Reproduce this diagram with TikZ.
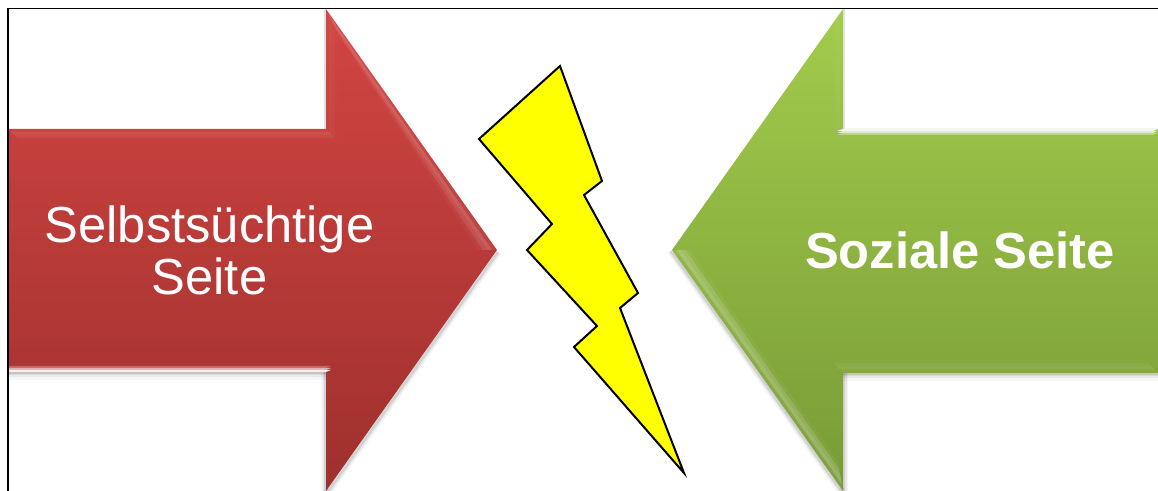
\documentclass[tikz,border=0pt]{standalone}
\usepackage{fontspec}
\setmainfont{Liberation Sans}
\usetikzlibrary{calc}
\definecolor{redtop}{HTML}{D24543}
\definecolor{redbot}{HTML}{9E302D}
\definecolor{greentop}{HTML}{A3CC4C}
\definecolor{greenbot}{HTML}{789A36}
\definecolor{boltyellow}{RGB}{255,255,0}
\newcommand{\bevelband}[5]{% edge a, edge b, inner b, inner a, strength
  \foreach \t/\u/\o in {0/0.25/0.25,0.25/0.5/1,0.5/0.75/0.7,0.75/1/0.2}{
    \fill[white,opacity=\o*#5] ($(#1)!\t!(#4)$) -- ($(#2)!\t!(#3)$) -- ($(#2)!\u!(#3)$) -- ($(#1)!\u!(#4)$) -- cycle;
  }
}
\tikzset{
  x=0.75pt,y=-0.75pt,
  arrowbody/.style={line width=0pt},
  softshadow/.style={draw=black,line join=miter,line cap=butt},
  labeltext/.style={text=white,align=center,inner sep=0pt,font=\fontsize{38}{40}\selectfont},
  bolt/.style={fill=boltyellow,draw=black,line width=1.5pt,line join=miter,miter limit=10},
  frameline/.style={draw=black,line width=0.9pt}
}
\begin{document}
\begin{tikzpicture}
\useasboundingbox (0,0) rectangle (1158,491);
% coordinates of the red arrow
\coordinate (ra) at (8,129); \coordinate (rb) at (326,129); \coordinate (rc) at (326,9);
\coordinate (rd) at (497,250); \coordinate (re) at (326,491); \coordinate (rf) at (326,372); \coordinate (rg) at (8,372);
% coordinates of the green arrow
\coordinate (ga) at (1158,129); \coordinate (gb) at (843,129); \coordinate (gc) at (843,9);
\coordinate (gd) at (672,250); \coordinate (ge) at (843,491); \coordinate (gf) at (843,373); \coordinate (gg) at (1158,373);
% soft shadows
\foreach \w/\o in {14/0.035,9/0.05,5/0.07,2.5/0.09}{
  \draw[softshadow,line width=\w*0.75pt,opacity=\o] ($(rg)+(0,1)$) -- ($(rf)+(0,1)$);
  \draw[softshadow,line width=\w*0.75pt,opacity=\o] ($(gg)+(0,1)$) -- ($(gf)+(0,1)$);
}
\foreach \w/\o in {8/0.04,5/0.06,2.5/0.09}{
  \draw[softshadow,line width=\w*0.75pt,opacity=\o] ($(rf)+(-1,0)$) -- ($(re)+(-1,0)$);
  \draw[softshadow,line width=\w*0.75pt,opacity=\o] ($(rd)+(1,2)$) -- ($(re)+(1,2)$);
  \draw[softshadow,line width=\w*0.75pt,opacity=\o] ($(gf)+(1,0)$) -- ($(ge)+(1,0)$);
  \draw[softshadow,line width=\w*0.75pt,opacity=\o] ($(gd)+(-1,1)$) -- ($(ge)+(-1,1)$);
}
\draw[softshadow,line width=1.5*0.75pt,opacity=0.12] ($(rb)+(-1,0)$) -- ($(rc)+(-1,0)$);
\draw[softshadow,line width=1.5*0.75pt,opacity=0.10] ($(gb)+(1,0)$) -- ($(gc)+(1,0)$);
% arrow bodies
\path[top color=redtop,bottom color=redbot,arrowbody] (ra) -- (rb) -- (rc) -- (rd) -- (re) -- (rf) -- (rg) -- cycle;
\path[top color=greentop,bottom color=greenbot,arrowbody] (ga) -- (gb) -- (gc) -- (gd) -- (ge) -- (gf) -- (gg) -- cycle;
% bevel corner points, red
\coordinate (r1) at (20,141); \coordinate (r2) at (338,141); \coordinate (r3) at (338,34);
\coordinate (r4) at (478,250);
\bevelband{ra}{rb}{r2}{r1}{0.09}
\bevelband{rb}{rc}{r3}{r2}{0.04}
\bevelband{rc}{rd}{r4}{r3}{0.17}
% red lower highlight
\foreach \a/\b/\o in {366/368/0.25,368/370/0.62,370/372/0.92}{
  \fill[white,opacity=\o] (8,\a) -- (331,\a) -- (326,\b) -- (8,\b) -- cycle;
}
% bevel corner points, green
\coordinate (g2) at (1153,135);
\coordinate (g3) at (831,360); \coordinate (g4) at (1146,360);
\coordinate (g5) at (690,250); \coordinate (g6) at (838,462);
\foreach \a/\b/\o in {129/131/0.9,131/133/0.7,133/135/0.35}{
  \fill[white,opacity=\o] (1158,\a) -- (843,\a) -- (837,\b) -- (1153,\b) -- cycle;
}
\bevelband{gb}{gc}{831,26}{831,129}{0.035}
\bevelband{gd}{ge}{g6}{g5}{0.24}
\bevelband{gg}{gf}{g3}{g4}{0.09}
% bolt
\draw[bolt] (560,66) -- (602,181) -- (584,195) -- (638,293) -- (620,308) -- (684,473) -- (574,347) -- (597,326) -- (527,250) -- (552,224) -- (479,139) -- cycle;
% frame
\coordinate (fa) at (8,491); \coordinate (fb) at (8,8.5); \coordinate (fc) at (1158,8.5);
\draw[frameline] (fa) -- (fb) -- (fc);
% text
\node[labeltext] (selfish) at (209.5,250) {Selbstsüchtige\\[-1pt]Seite};
\node[labeltext,font=\fontsize{38}{40}\selectfont\bfseries] (social) at (960,250) {Soziale Seite};
\end{tikzpicture}
\end{document}
